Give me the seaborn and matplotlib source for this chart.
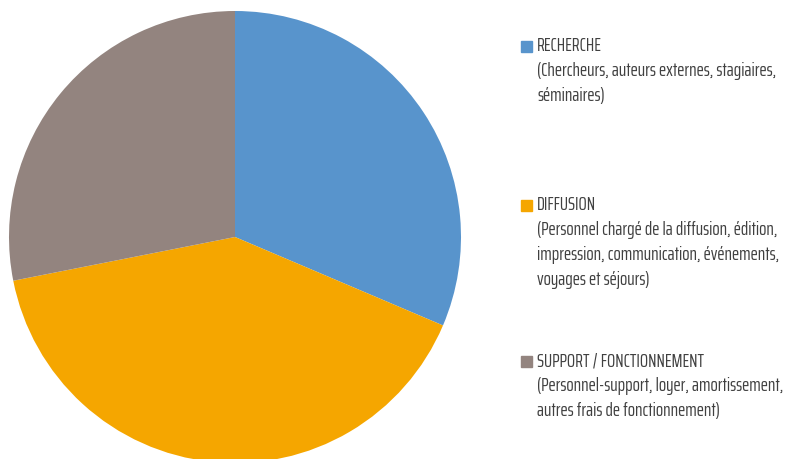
import matplotlib
matplotlib.use('Agg')
import matplotlib.pyplot as plt
import seaborn as sns

sns.set_theme(style='white')
plt.rcParams['font.family'] = ['Saira ExtraCondensed', 'DejaVu Sans']

# Data (shares, in %)
categories = ['RECHERCHE', 'DIFFUSION', 'SUPPORT / FONCTIONNEMENT']
shares = [31.4, 40.5, 28.1]
descriptions = [
    ['(Chercheurs, auteurs externes, stagiaires,', 'séminaires)'],
    ['(Personnel chargé de la diffusion, édition,',
     'impression, communication, événements,', 'voyages et séjours)'],
    ['(Personnel-support, loyer, amortissement,',
     'autres frais de fonctionnement)'],
]
colors = sns.color_palette(['#5894CC', '#F5A600', '#93847F'])

W, H = 785, 459
fig = plt.figure(figsize=(W / 100, H / 100), dpi=100)

cx, cy, r = 235, 237, 226
ax = fig.add_axes([(cx - r) / W, (H - cy - r) / H, 2 * r / W, 2 * r / H])
ax.pie(shares, colors=colors, startangle=90, counterclock=False,
       radius=1, wedgeprops=dict(linewidth=0))
ax.set_xlim(-1, 1)
ax.set_ylim(-1, 1)
ax.set_aspect('equal')
ax.axis('off')

# pick a font size so the longest legend line is ~246 px wide, like the reference
renderer = fig.canvas.get_renderer()
probe = fig.text(0, 0, '(Personnel-support, loyer, amortissement,', fontsize=14)
fs = 14 * 246 / probe.get_window_extent(renderer).width
probe.remove()

# Legend drawn by hand
text_color = '#404040'
title_y = [46, 205, 361]
line_gap = 25
for cat, desc, col, y in zip(categories, descriptions, colors, title_y):
    fig.patches.append(plt.Rectangle((521 / W, (H - y - 6) / H), 11 / W, 11 / H,
                                     transform=fig.transFigure, color=col))
    fig.text(537 / W, (H - y) / H, cat, fontsize=fs, color=text_color,
             va='center', ha='left')
    for i, line in enumerate(desc):
        fig.text(537 / W, (H - y - line_gap * (i + 1)) / H, line, fontsize=fs,
                 color=text_color, va='center', ha='left')

fig.savefig('out.png', dpi=100)
